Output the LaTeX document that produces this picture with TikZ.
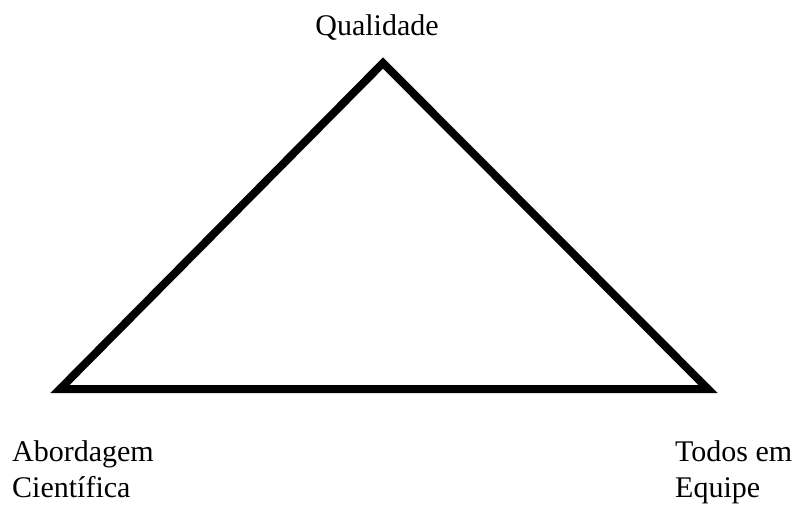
\documentclass[tikz,border=0pt]{standalone}
\usepackage{fontspec}
\setmainfont{Liberation Serif}
\begin{document}
\begin{tikzpicture}[x=1pt,y=-1pt,
  lbl/.style={inner sep=0pt, font=\fontsize{30}{36}\selectfont, align=left},
  edge/.style={line width=8pt, line join=miter}]
\useasboundingbox (0,0) rectangle (804,504);
\coordinate (top) at (383,63);
\coordinate (bl) at (60,389);
\coordinate (br) at (708,389);
\draw[edge] (top) -- (bl) -- (br) -- cycle;
\node[lbl, anchor=base] (q) at (377,35) {Qualidade};
\node[lbl, anchor=base west] (a) at (12,497) {Abordagem\\Científica};
\node[lbl, anchor=base west] (t) at (675,497) {Todos em\\Equipe};
\end{tikzpicture}
\end{document}
